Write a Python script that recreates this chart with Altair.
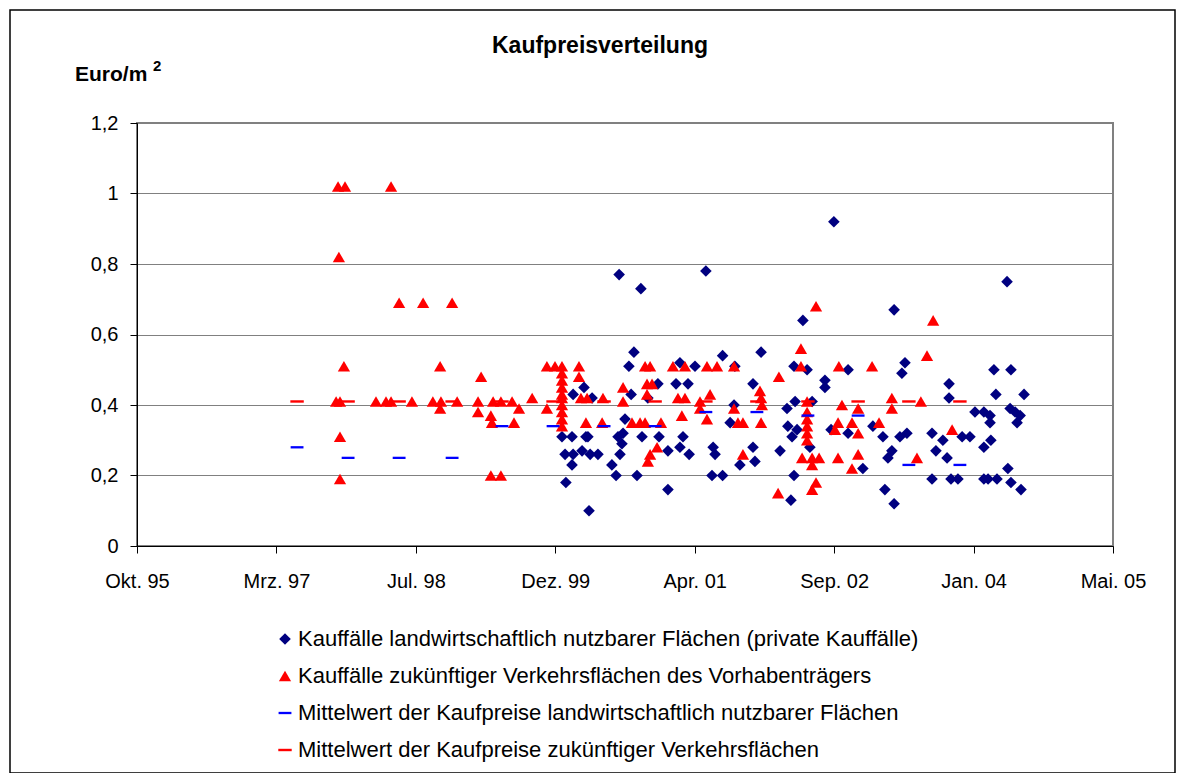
import altair as alt
import pandas as pd

# ---------------- data (Excel date serials, Euro/m2) ----------------
x_tick_values = [35000, 35500, 36000, 36500, 37000, 37500, 38000, 38500]
x_tick_labels = ["Okt. 95", "Mrz. 97", "Jul. 98", "Dez. 99", "Apr. 01", "Sep. 02", "Jan. 04", "Mai. 05"]
y_tick_values = [0, 0.2, 0.4, 0.6, 0.8, 1.0, 1.2]

series_names = [
    "Kauffälle landwirtschaftlich nutzbarer Flächen (private Kauffälle)",
    "Kauffälle zukünftiger Verkehrsflächen des Vorhabenträgers",
    "Mittelwert der Kaufpreise landwirtschaftlich nutzbarer Flächen",
    "Mittelwert der Kaufpreise zukünftiger Verkehrsflächen",
]

priv_tag = [36524, 36535, 36538, 36560, 36564, 36560, 36564, 36603, 36632, 36596,
            36610, 36617, 36625, 36653, 36621, 36729, 36807, 36782, 36764, 36772,
            36750, 36725, 36743, 36739, 36703, 36732, 36718, 36793, 36811, 37040,
            36947, 37001, 37100, 36868, 36933, 36976, 36832, 36872, 36958, 36947,
            36904, 36980, 37066, 37073, 37062, 37100, 36904, 37388, 37144, 37238,
            37356, 37209, 37360, 37331, 37141, 37127, 37334, 37349, 37209, 37216,
            37162, 37306, 37356, 37345, 37499, 37403, 37550, 37467, 37467, 37421,
            37639, 37675, 37489, 37550, 37413, 37367, 37603, 37682, 37715, 37754,
            37743, 37912, 37912, 37736, 37761, 37707, 37693, 37959, 37851, 37890,
            37865, 37905, 37851, 37919, 37944, 37715, 38120, 38073, 38134, 38080,
            38181, 38005, 38037, 38059, 38131, 38149, 38167, 38059, 38156, 37987,
            38037, 38062, 38037, 38052, 38084, 38123, 38134, 38170]
priv_preis = [0.31, 0.26, 0.18, 0.31, 0.26, 0.23, 0.43, 0.45, 0.42, 0.27,
              0.31, 0.31, 0.26, 0.26, 0.10, 0.77, 0.73, 0.55, 0.51, 0.43,
              0.36, 0.31, 0.32, 0.29, 0.23, 0.26, 0.20, 0.20, 0.31, 0.78,
              0.52, 0.51, 0.54, 0.46, 0.46, 0.46, 0.42, 0.31, 0.31, 0.28,
              0.27, 0.26, 0.28, 0.26, 0.20, 0.20, 0.16, 0.64, 0.51, 0.55,
              0.51, 0.46, 0.41, 0.39, 0.40, 0.35, 0.34, 0.31, 0.28, 0.24,
              0.23, 0.27, 0.20, 0.13, 0.92, 0.50, 0.50, 0.47, 0.45, 0.41,
              0.34, 0.31, 0.33, 0.32, 0.28, 0.33, 0.22, 0.16, 0.67, 0.52,
              0.49, 0.46, 0.42, 0.31, 0.32, 0.27, 0.25, 0.31, 0.32, 0.30,
              0.27, 0.25, 0.19, 0.19, 0.19, 0.12, 0.75, 0.50, 0.50, 0.43,
              0.43, 0.38, 0.38, 0.37, 0.39, 0.38, 0.37, 0.35, 0.35, 0.31,
              0.28, 0.30, 0.19, 0.19, 0.19, 0.22, 0.18, 0.16]

vt_tag = [35721, 35746, 35911, 35724, 35742, 35728, 35714, 35728, 35728, 35857,
          35893, 35911, 35940, 36026, 36130, 35986, 36061, 36090, 36087, 36087,
          36148, 36234, 36223, 36223, 36269, 36273, 36277, 36305, 36345, 36370,
          36352, 36417, 36269, 36305, 36470, 36499, 36470,
          36524, 36524, 36524, 36524, 36524, 36524, 36524, 36524, 36524, 36524,
          36585, 36585, 36592, 36614, 36671, 36743, 36743, 36610, 36668, 36775,
          36804, 36822, 36840, 36922, 36965, 37044, 37080, 36829, 36847, 36829,
          36940, 36965, 37055, 37019, 37019, 37044, 36954, 36822, 36879, 36865,
          36832, 36840, 37141, 37381, 37381, 37302, 37234, 37238, 37241, 37141,
          37155, 37173, 37238, 37173, 37299, 37435, 37517, 37636,
          37403, 37403, 37403, 37403, 37403, 37403,
          37528, 37586, 37514, 37564, 37661, 37503, 37586, 37385, 37421, 37446,
          37421, 37514, 37586, 37564, 37435, 37421, 37855, 37833, 37707, 37707,
          37811, 37923, 37797]
vt_preis = [1.02, 1.02, 1.02, 0.82, 0.51, 0.41, 0.41, 0.31, 0.19, 0.41,
            0.41, 0.41, 0.69, 0.69, 0.69, 0.41, 0.41, 0.41, 0.51, 0.39,
            0.41, 0.48, 0.41, 0.38, 0.37, 0.35, 0.41, 0.41, 0.41, 0.39,
            0.35, 0.42, 0.20, 0.20, 0.51, 0.51, 0.39,
            0.51, 0.49, 0.47, 0.45, 0.43, 0.42, 0.40, 0.38, 0.36, 0.34,
            0.51, 0.48, 0.42, 0.42, 0.42, 0.45, 0.41, 0.35, 0.35, 0.35,
            0.35, 0.51, 0.51, 0.51, 0.51, 0.51, 0.51, 0.46, 0.46, 0.43,
            0.42, 0.42, 0.43, 0.41, 0.39, 0.36, 0.37, 0.35, 0.35, 0.28,
            0.24, 0.26, 0.51, 0.56, 0.51, 0.48, 0.44, 0.42, 0.40, 0.39,
            0.35, 0.35, 0.35, 0.26, 0.15, 0.68, 0.51, 0.51,
            0.41, 0.38, 0.36, 0.34, 0.32, 0.30,
            0.40, 0.39, 0.35, 0.35, 0.35, 0.33, 0.32, 0.25, 0.25, 0.25,
            0.23, 0.25, 0.26, 0.22, 0.18, 0.16, 0.64, 0.54, 0.42, 0.39,
            0.41, 0.33, 0.25]

mittel_tag = [35574, 35757, 35940, 36130, 36309, 36492, 36675, 36858, 37040, 37223,
              37406, 37586, 37768, 37951]
mittel_priv = [0.28, 0.25, 0.25, 0.25, 0.34, 0.34, 0.34, 0.34, 0.38, 0.38,
               0.37, 0.37, 0.23, 0.23]
mittel_vt = [0.41, 0.41, 0.41, 0.41, 0.41, 0.41, 0.41, 0.41, 0.41, 0.41,
             0.41, 0.41, 0.41, 0.41]

# ---------------- table ----------------
rows = []
for t, v in zip(priv_tag, priv_preis):
    rows.append({"tag": t, "preis": v, "reihe": series_names[0]})
for t, v in zip(vt_tag, vt_preis):
    rows.append({"tag": t, "preis": v, "reihe": series_names[1]})
for t, v in zip(mittel_tag, mittel_priv):
    rows.append({"tag": t, "preis": v, "reihe": series_names[2]})
for t, v in zip(mittel_tag, mittel_vt):
    rows.append({"tag": t, "preis": v, "reihe": series_names[3]})
df = pd.DataFrame(rows)

FONT = "Liberation Sans"
DASH = "M-1,-0.18H1V0.18H-1Z"
colors = ["#000080", "#FF0000", "#0000FF", "#FF0000"]
shapes = ["diamond", "triangle-up", DASH, DASH]
sizes = [135, 180, 180, 180]

x_label_expr = "[" + ",".join("'%s'" % s for s in x_tick_labels) + "][indexof([" + \
    ",".join(str(v) for v in x_tick_values) + "], datum.value)]"
y_label_expr = "replace(format(datum.value, '~g'), '.', ',')"

legend = alt.Legend(
    title=None, orient="none", legendX=137, legendY=505, direction="vertical",
    labelFont=FONT, labelFontSize=22, labelColor="black", labelLimit=1000,
    symbolSize=81, symbolStrokeWidth=0, rowPadding=15, padding=0, labelOffset=2,
)

points = alt.Chart(df).mark_point(filled=True, opacity=1, strokeWidth=0).encode(
    x=alt.X("tag:Q",
            scale=alt.Scale(domain=[35000, 38500], nice=False, zero=False),
            axis=alt.Axis(values=x_tick_values, labelExpr=x_label_expr, title=None,
                          grid=False, tickSize=7, labelPadding=18, labelFontSize=20,
                          labelFlush=False, labelOverlap=False)),
    y=alt.Y("preis:Q",
            scale=alt.Scale(domain=[0, 1.2], nice=False, zero=True),
            axis=alt.Axis(values=y_tick_values, labelExpr=y_label_expr, title=None,
                          grid=True, gridColor="#808080", gridWidth=1, tickSize=7,
                          labelPadding=12, labelFontSize=20, labelFlush=False,
                          labelOverlap=False)),
    color=alt.Color("reihe:N", scale=alt.Scale(domain=series_names, range=colors), legend=legend),
    shape=alt.Shape("reihe:N", scale=alt.Scale(domain=series_names, range=shapes), legend=legend),
    size=alt.Size("reihe:N", scale=alt.Scale(domain=series_names, range=sizes), legend=None),
)

one = pd.DataFrame({"a": [0]})

frame = alt.Chart(one).mark_rect(fillOpacity=0, stroke="black", strokeWidth=1.5).encode(
    x=alt.value(-127), x2=alt.value(1038), y=alt.value(-113), y2=alt.value(650)
)

title_txt = alt.Chart(one).mark_text(
    text="Kaufpreisverteilung", font=FONT, fontSize=23, fontWeight="bold",
    align="center", baseline="middle", color="black"
).encode(x=alt.value(463), y=alt.value(-77))

unit_txt = alt.Chart(one).mark_text(
    text="Euro/m", font=FONT, fontSize=21, fontWeight="bold",
    align="left", baseline="alphabetic", color="black"
).encode(x=alt.value(-62), y=alt.value(-42))

sup_txt = alt.Chart(one).mark_text(
    text="2", font=FONT, fontSize=15, fontWeight="bold",
    align="left", baseline="alphabetic", color="black"
).encode(x=alt.value(16), y=alt.value(-52))

chart = alt.layer(frame, points, title_txt, unit_txt, sup_txt).properties(
    width=976, height=423,
    autosize=alt.AutoSizeParams(type="none"),
    padding={"left": 129, "top": 115, "right": 64, "bottom": 227},
).configure_view(
    stroke="#808080", strokeWidth=2
).configure_axis(
    domainColor="black", tickColor="black", labelColor="black", labelFont=FONT,
    domainWidth=1, tickWidth=1
)

chart.save("out.html", embed_options={"renderer": "svg", "actions": False})
